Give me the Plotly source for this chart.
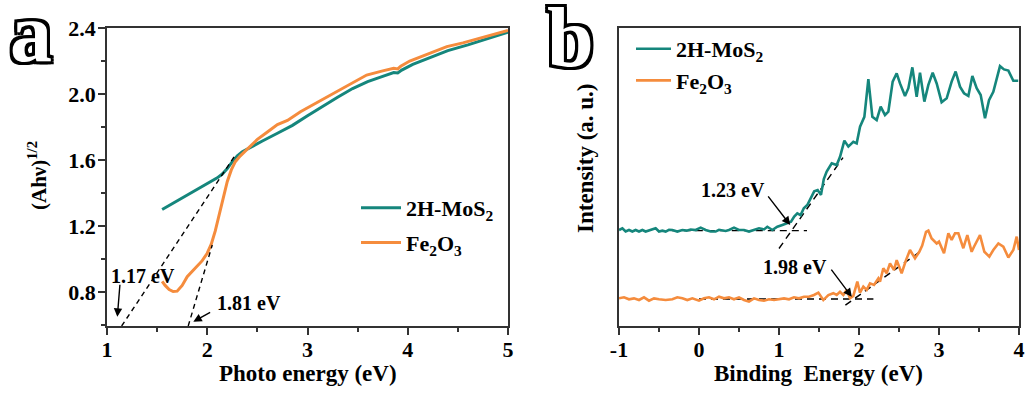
import plotly.graph_objects as go

FONT = "Liberation Serif, Times New Roman, serif"
TEAL = "#15867c"
ORANGE = "#f58c3d"
AXC = "#333333"
W, H = 1026, 394

# ---------------- Panel a : Tauc plot ----------------
a_mos2_x = [1.55, 1.65, 1.75, 1.85, 1.95, 2.05, 2.10, 2.15, 2.20, 2.25, 2.30, 2.35, 2.43, 2.55,
            2.70, 2.85, 3.00, 3.15, 3.30, 3.45, 3.60, 3.75, 3.86, 3.90, 3.94, 4.05, 4.20, 4.40,
            4.60, 4.80, 5.00]
a_mos2_y = [1.300, 1.335, 1.370, 1.405, 1.440, 1.475, 1.492, 1.515, 1.548, 1.590, 1.625, 1.650,
            1.678, 1.715, 1.762, 1.810, 1.868, 1.925, 1.980, 2.033, 2.075, 2.107, 2.130, 2.127,
            2.145, 2.180, 2.215, 2.263, 2.298, 2.335, 2.375]

a_fe_x = [1.55, 1.58, 1.62, 1.66, 1.70, 1.75, 1.80, 1.85, 1.90, 1.95, 2.00, 2.04, 2.08, 2.12,
          2.16, 2.20, 2.24, 2.28, 2.33, 2.38, 2.43, 2.50, 2.60, 2.70, 2.80, 2.93, 3.10, 3.26,
          3.42, 3.59, 3.75, 3.86, 3.90, 3.93, 4.02, 4.20, 4.39, 4.55, 4.72, 4.86, 5.00]
a_fe_y = [0.865, 0.840, 0.815, 0.803, 0.805, 0.840, 0.893, 0.925, 0.955, 0.990, 1.035, 1.090,
          1.170, 1.270, 1.378, 1.470, 1.540, 1.590, 1.625, 1.655, 1.681, 1.725, 1.770, 1.815,
          1.840, 1.893, 1.950, 2.004, 2.060, 2.115, 2.140, 2.156, 2.152, 2.168, 2.200, 2.240,
          2.287, 2.310, 2.337, 2.360, 2.385]

# tangent (extrapolation) lines, endpoints
a_fit1_x = [1.146, 2.28]
a_fit1_y = [0.594, 1.63]
a_fit2_x = [1.81, 2.05]
a_fit2_y = [0.594, 1.085]

# ---------------- Panel b : VB-XPS ----------------
b_tickvals = [-1, 0, 1, 2, 3, 4]
b_ticktext = ["-1", "0", "1", "2", "3", "4"]

b_mos2_x = [-1.0, -0.958, -0.917, -0.875, -0.833, -0.792, -0.75, -0.708, -0.667, -0.604, -0.542,
            -0.5, -0.458, -0.417, -0.375, -0.333, -0.271, -0.208, -0.156, -0.104, -0.042, 0.021,
            0.083, 0.146, 0.208, 0.25, 0.292, 0.333, 0.375, 0.4375, 0.5, 0.5625, 0.625, 0.6875,
            0.75, 0.8125, 0.854, 0.917, 0.979, 1.042, 1.104, 1.15, 1.19, 1.229, 1.27, 1.31,
            1.354, 1.396, 1.44, 1.483, 1.525, 1.56, 1.596, 1.659, 1.721, 1.763, 1.817, 1.867,
            1.929, 1.971, 2.013, 2.067, 2.117, 2.167, 2.221, 2.271, 2.325, 2.367, 2.421, 2.471,
            2.5125, 2.575, 2.617, 2.667, 2.721, 2.7625, 2.817, 2.867, 2.921, 2.971, 3.033, 3.096,
            3.158, 3.208, 3.2625, 3.3125, 3.367, 3.417, 3.471, 3.521, 3.575, 3.625, 3.679,
            3.7625, 3.8125, 3.867, 3.929, 3.99]
b_mos2_y = [32.2, 32.8, 31.7, 32.2, 31.7, 32.2, 31.7, 32.2, 31.7, 32.2, 32.8,
            31.7, 32.0, 31.7, 32.3, 32.2, 31.7, 32.2, 32.0, 32.4, 32.2, 33.0,
            32.2, 31.7, 31.7, 32.3, 32.2, 31.9, 32.2, 33.0, 32.2, 32.2, 31.7, 32.2,
            32.8, 32.4, 33.3, 32.2, 33.3, 33.9, 34.5, 35.0, 36.7, 37.8, 37.2, 39.5,
            40.6, 42.8, 45.2, 45.6, 44.0, 49.3, 51.8, 54.6, 54.0, 56.8, 62.2, 60.2,
            61.8, 61.3, 66.9, 70.2, 82.8, 70.2, 69.1, 73.6, 70.8, 71.9, 82.0, 84.8,
            81.4, 77.2, 79.8, 86.8, 76.9, 85.0, 75.3, 80.9, 85.0, 81.4, 75.1, 76.4,
            82.0, 85.4, 80.3, 78.1, 77.2, 83.9, 79.8, 77.5, 69.7, 75.8, 78.6,
            87.2, 86.1, 85.7, 82.3, 82.3]

b_fe_x = [-1.0, -0.9375, -0.875, -0.8125, -0.75, -0.6875, -0.625, -0.5625, -0.5, -0.417, -0.333,
          -0.271, -0.208, -0.146, -0.083, 0.0, 0.0625, 0.125, 0.1875, 0.25, 0.3125, 0.375,
          0.4375, 0.5, 0.5625, 0.625, 0.6875, 0.75, 0.8125, 0.875, 0.9375, 1.0, 1.0625, 1.125,
          1.1875, 1.25, 1.3125, 1.375, 1.4375, 1.492, 1.554, 1.617, 1.679, 1.721, 1.7625, 1.804,
          1.846, 1.8875, 1.929, 1.979, 2.0125, 2.054, 2.096, 2.1375, 2.1875, 2.242, 2.2625,
          2.304, 2.346, 2.3875, 2.4375, 2.471, 2.533, 2.5875, 2.6375, 2.7, 2.754, 2.79, 2.8375,
          2.867, 2.908, 2.971, 3.0, 3.0625, 3.117, 3.158, 3.2, 3.242, 3.304, 3.354, 3.408,
          3.4375, 3.5125, 3.567, 3.629, 3.679, 3.742, 3.804, 3.867, 3.929, 3.971, 4.0]
b_fe_y = [9.28, 9.62, 8.95, 9.28, 8.72, 9.62, 8.50, 9.28, 8.95, 8.72, 8.95,
          9.62, 9.28, 8.72, 9.28, 8.50, 9.28, 9.62, 8.95, 9.84, 9.28, 9.62,
          8.95, 9.62, 8.72, 8.16, 9.28, 8.72, 8.50, 8.95, 8.72, 9.06, 9.28, 8.95,
          9.62, 9.28, 9.84, 9.84, 10.4, 11.2, 8.7, 10.4, 11.0, 10.4, 11.5, 10.4,
          12.1, 9.3, 10.1, 14.9, 11.2, 13.2, 12.1, 14.3, 13.8, 16.0, 14.9,
          19.4, 17.7, 21.0, 18.8, 22.1, 17.7, 22.1, 25.5, 22.7, 24.9, 27.0, 31.6,
          32.0, 29.4, 27.7, 28.3, 24.4, 31.1, 28.9, 31.1, 31.1, 26.1, 30.5, 24.9,
          26.6, 30.5, 24.9, 23.3, 25.5, 27.7, 26.6, 23.0, 25.5, 30.0, 25.5]

b_base1_x = [-0.34, 1.35]
b_base1_y = [32.0, 32.0]
b_fit1_x = [1.0, 1.8]
b_fit1_y = [26.0, 56.5]
b_base2_x = [0.0, 2.18]
b_base2_y = [9.06, 9.06]
b_fit2_x = [1.83, 2.76]
b_fit2_y = [7.0, 24.9]

def px(x):
    return x / W

def py(y):
    return 1 - y / H

fig = go.Figure()

# panel a curves
fig.add_trace(go.Scatter(x=a_mos2_x, y=a_mos2_y, mode="lines", name="2H-MoS<sub>2</sub>",
                         line=dict(color=TEAL, width=3), xaxis="x", yaxis="y",
                         legend="legend", legendgroup="a1"))
fig.add_trace(go.Scatter(x=a_fe_x, y=a_fe_y, mode="lines", name="Fe<sub>2</sub>O<sub>3</sub>",
                         line=dict(color=ORANGE, width=3), xaxis="x", yaxis="y",
                         legend="legend", legendgroup="a2"))
for fx, fy in [(a_fit1_x, a_fit1_y), (a_fit2_x, a_fit2_y)]:
    fig.add_trace(go.Scatter(x=fx, y=fy, mode="lines", showlegend=False,
                             line=dict(color="black", width=1.4, dash="5px,4px"),
                             xaxis="x", yaxis="y"))

# panel b curves
for fx, fy in [(b_base1_x, b_base1_y), (b_fit1_x, b_fit1_y), (b_base2_x, b_base2_y), (b_fit2_x, b_fit2_y)]:
    fig.add_trace(go.Scatter(x=fx, y=fy, mode="lines", showlegend=False,
                             line=dict(color="black", width=1.4, dash="7px,5px"),
                             xaxis="x2", yaxis="y2"))
fig.add_trace(go.Scatter(x=b_mos2_x, y=b_mos2_y, mode="lines", name="2H-MoS<sub>2</sub>",
                         line=dict(color=TEAL, width=2.6), xaxis="x2", yaxis="y2",
                         legend="legend2", legendgroup="b1"))
fig.add_trace(go.Scatter(x=b_fe_x, y=b_fe_y, mode="lines", name="Fe<sub>2</sub>O<sub>3</sub>",
                         line=dict(color=ORANGE, width=2.6), xaxis="x2", yaxis="y2",
                         legend="legend2", legendgroup="b2"))

tickfont = dict(family=FONT, size=22, color="black", weight="bold")
common = dict(showline=True, linecolor=AXC, linewidth=1.5, mirror=True, showgrid=False,
              zeroline=False, ticks="outside", ticklen=7, tickwidth=1.5, tickcolor=AXC,
              tickfont=tickfont, automargin=False)
ydom = [1 - 326 / H, 1 - 28 / H]

fig.update_layout(
    width=W, height=H, margin=dict(l=0, r=0, t=0, b=0, autoexpand=False),
    paper_bgcolor="white", plot_bgcolor="white",
    xaxis=dict(domain=[px(107), px(508)], range=[1, 5], dtick=1, tick0=0, anchor="y",
               ticklabelstandoff=-4,
               minor=dict(dtick=0.5, ticks="outside", ticklen=4, tickwidth=1.5, tickcolor=AXC),
               **common),
    yaxis=dict(domain=ydom, range=[0.594, 2.4], dtick=0.4, tick0=0.8, tickformat=".1f",
               anchor="x", ticklabelstandoff=-2,
               minor=dict(dtick=0.2, ticks="outside", ticklen=4, tickwidth=1.5, tickcolor=AXC),
               **common),
    xaxis2=dict(domain=[px(619), px(1019)], range=[-1, 4], tickvals=b_tickvals,
                ticktext=b_ticktext, anchor="y2", ticklabelstandoff=-4,
                minor=dict(dtick=0.5, tick0=0, ticks="outside", ticklen=4, tickwidth=1.5,
                           tickcolor=AXC),
                **common),
    yaxis2=dict(domain=ydom, range=[0, 100], anchor="x2", showline=True, linecolor=AXC,
                linewidth=1.5, mirror=True, showgrid=False, zeroline=False,
                showticklabels=False, ticks="", automargin=False),
    legend=dict(x=px(356), y=py(187), xanchor="left", yanchor="top",
                font=dict(family=FONT, size=22, color="black", weight="bold"),
                bgcolor="rgba(0,0,0,0)", tracegroupgap=3, itemwidth=40),
    legend2=dict(x=px(631), y=py(28), xanchor="left", yanchor="top",
                 font=dict(family=FONT, size=22, color="black", weight="bold"),
                 bgcolor="rgba(0,0,0,0)", tracegroupgap=0, itemwidth=35),
    showlegend=True,
)

ann = []
tf = dict(family=FONT, size=23, color="black", weight="bold")
# axis titles
ann.append(dict(text="Photo energy (eV)", x=px(308), y=py(373), xref="paper", yref="paper",
                showarrow=False, font=tf, xanchor="center", yanchor="middle"))
ann.append(dict(text="Binding  Energy (eV)", x=px(818), y=py(373), xref="paper", yref="paper",
                showarrow=False, font=tf, xanchor="center", yanchor="middle"))
ann.append(dict(text="(Ahν)<sup>1/2</sup>", x=px(37), y=py(176), xref="paper", yref="paper",
                showarrow=False, font=dict(family=FONT, size=21, color="black", weight="bold"),
                textangle=-90, xanchor="center", yanchor="middle"))
ann.append(dict(text="Intensity (a. u.)", x=px(585), y=py(158), xref="paper", yref="paper",
                showarrow=False, font=tf, textangle=-90, xanchor="center", yanchor="middle"))

# panel letters
outline = ", ".join(f"{dx}px {dy}px 0 #000" for dx in (-3, 0, 3) for dy in (-3, 0, 3) if dx or dy)
for letter, xx, yy in [("a", 31, 32), ("b", 570, 38)]:
    ann.append(dict(text=letter, x=px(xx), y=py(yy), xref="paper", yref="paper", showarrow=False,
                    font=dict(family=FONT, size=84, color="white", weight="bold", shadow=outline),
                    xanchor="center", yanchor="middle"))

# value labels and arrows
lf = dict(family=FONT, size=20, color="black", weight="bold")
ann.append(dict(text="1.17 eV", x=1.363, y=0.90, xref="x", yref="y", showarrow=False, font=lf))
ann.append(dict(text="1.81 eV", x=2.414, y=0.736, xref="x", yref="y", showarrow=False, font=lf))
ann.append(dict(text="1.23 eV", x=0.43, y=45.6, xref="x2", yref="y2", showarrow=False, font=lf))
ann.append(dict(text="1.98 eV", x=1.20, y=19.9, xref="x2", yref="y2", showarrow=False, font=lf))

arrows = [("x", "y", 1.103, 0.65, 1.13, 0.853),
          ("x", "y", 1.861, 0.62, 2.044, 0.681),
          ("x2", "y2", 1.14, 33.9, 0.85, 44.0),
          ("x2", "y2", 1.91, 9.8, 1.64, 19.4)]
for xr, yr, hx, hy, tx, ty in arrows:
    ann.append(dict(text="", x=hx, y=hy, ax=tx, ay=ty, xref=xr, yref=yr, axref=xr, ayref=yr,
                    showarrow=True, arrowhead=2, arrowsize=1.2, arrowwidth=1.4,
                    arrowcolor="black"))

fig.update_layout(annotations=ann)
fig.write_html("out.html", config={"displayModeBar": False},
               post_script="document.body.style.margin='0';")
